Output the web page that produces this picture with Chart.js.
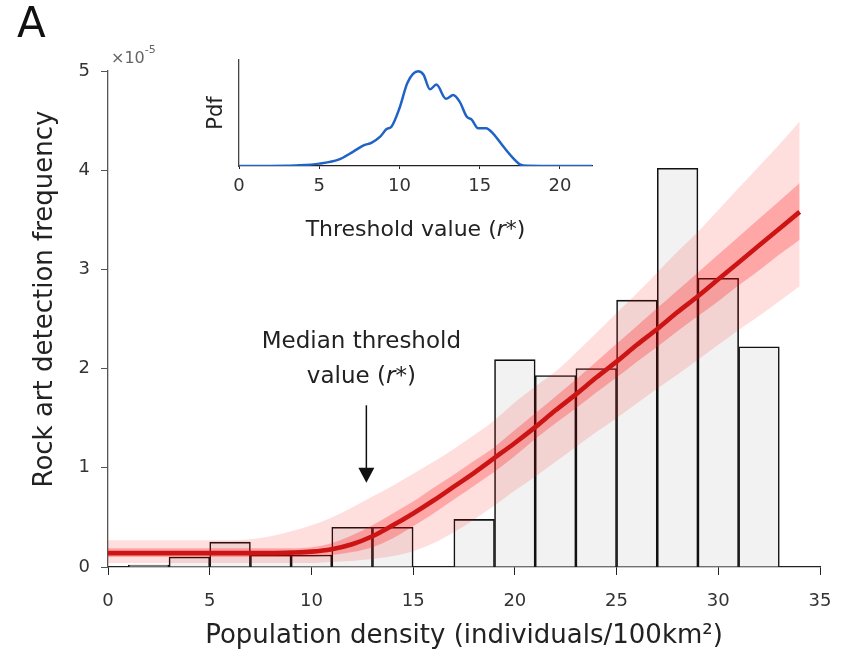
<!DOCTYPE html>
<html>
<head>
<meta charset="utf-8">
<script src="https://cdn.jsdelivr.net/npm/chart.js@4.4.1/dist/chart.umd.min.js"></script>
<style>
  html, body { margin: 0; padding: 0; background: #fff; }
  #wrap { position: relative; width: 843px; height: 656px; }
  #main { position: absolute; left: 0; top: 0; }
  #inset { position: absolute; left: 180px; top: 40px; }
</style>
</head>
<body>
<div id="wrap">
  <canvas id="main" width="843" height="656"></canvas>
  <canvas id="inset" width="440" height="220"></canvas>
</div>
<script>
// histogram of sites (bin centres, width 2)
const binCenters = [2, 4, 6, 8, 10, 12, 14, 16, 18, 20, 22, 24, 26, 28, 30, 32];
const binFreq = [0.02, 0.10, 0.25, 0.12, 0.12, 0.40, 0.40, 0, 0.48, 2.09, 1.93, 2.00, 2.69, 4.02, 2.91, 2.22];

// threshold model fit
const densityX = [0, 1, 2, 3, 4, 5, 6, 7, 8, 9, 10, 11, 12, 13, 14, 15, 16, 17, 18, 19, 20, 21, 22, 23, 24, 25, 26, 27, 28, 29, 30, 31, 32, 33, 34];
const fitMean = [0.14, 0.14, 0.14, 0.14, 0.14, 0.14, 0.14, 0.14, 0.14, 0.145, 0.155, 0.18, 0.23, 0.31, 0.42, 0.54, 0.67, 0.81, 0.95, 1.10, 1.25, 1.41, 1.58, 1.74, 1.91, 2.07, 2.24, 2.40, 2.57, 2.73, 2.90, 3.07, 3.24, 3.41, 3.58];
const innerLo = [0.10, 0.10, 0.10, 0.10, 0.10, 0.10, 0.10, 0.10, 0.10, 0.10, 0.10, 0.12, 0.15, 0.20, 0.29, 0.41, 0.54, 0.68, 0.82, 0.96, 1.12, 1.29, 1.45, 1.60, 1.76, 1.91, 2.07, 2.22, 2.38, 2.53, 2.68, 2.84, 2.99, 3.15, 3.30];
const innerHi = [0.19, 0.19, 0.19, 0.19, 0.19, 0.19, 0.19, 0.19, 0.19, 0.19, 0.20, 0.24, 0.32, 0.42, 0.54, 0.66, 0.80, 0.93, 1.07, 1.21, 1.38, 1.55, 1.72, 1.89, 2.07, 2.25, 2.43, 2.61, 2.79, 2.97, 3.15, 3.33, 3.51, 3.69, 3.87];
const outerLo = [0.04, 0.04, 0.04, 0.04, 0.04, 0.04, 0.04, 0.04, 0.04, 0.04, 0.04, 0.05, 0.06, 0.08, 0.11, 0.16, 0.24, 0.35, 0.48, 0.62, 0.77, 0.91, 1.06, 1.21, 1.36, 1.50, 1.65, 1.80, 1.94, 2.09, 2.24, 2.39, 2.53, 2.68, 2.83];
const outerHi = [0.27, 0.27, 0.27, 0.27, 0.27, 0.27, 0.27, 0.28, 0.31, 0.36, 0.42, 0.50, 0.60, 0.71, 0.82, 0.94, 1.06, 1.19, 1.33, 1.48, 1.66, 1.82, 1.97, 2.16, 2.36, 2.56, 2.76, 2.97, 3.18, 3.38, 3.60, 3.82, 4.04, 4.26, 4.49];

// median threshold arrow (x) and its vertical extent (y units)
const medianR = 12.7;
const arrowFrom = 1.63;
const arrowTo = 0.85;

// inset: pdf of threshold value
const pdfX = [0, 2, 3, 3.8, 5.0, 6.2, 7.1, 7.8, 8.25, 8.8, 9.2, 9.5, 10.0, 10.5, 11.16, 11.5, 11.9, 12.3, 12.9, 13.35, 13.75, 14.2, 14.5, 14.9, 15.4, 15.85, 16.5, 17.1, 17.5, 18.0, 20, 22];
const pdfY = [0, 0.001, 0.003, 0.007, 0.025, 0.067, 0.15, 0.22, 0.245, 0.31, 0.39, 0.415, 0.61, 0.88, 1.0, 0.965, 0.81, 0.86, 0.71, 0.75, 0.68, 0.52, 0.49, 0.40, 0.40, 0.34, 0.20, 0.08, 0.018, 0.002, 0, 0];

const FONT = "'DejaVu Sans', 'Liberation Sans', sans-serif";
Chart.defaults.font.family = FONT;
Chart.defaults.color = '#333';

const pts = (xs, ys) => xs.map((x, i) => ({ x: x, y: ys[i] }));

function drawRich(ctx, parts, cx, cy) {
    let total = 0;
    parts.forEach(p => { ctx.font = p.font; p.w = ctx.measureText(p.text).width; total += p.w; });
    let px = cx - total / 2;
    ctx.textBaseline = 'middle';
    ctx.textAlign = 'left';
    parts.forEach(p => { ctx.font = p.font; ctx.fillText(p.text, px, cy); px += p.w; });
}

const annotate = {
    id: 'annotate',
    afterDraw(chart) {
        const { ctx, chartArea } = chart;
        const xs = chart.scales.x, ys = chart.scales.y;
        ctx.save();
        // panel letter
        ctx.fillStyle = '#111';
        ctx.textBaseline = 'alphabetic';
        ctx.font = `42px ${FONT}`;
        ctx.fillText('A', 17, 37);
        // exponent marker
        ctx.fillStyle = '#666';
        ctx.font = `16px ${FONT}`;
        ctx.fillText('×10', chartArea.left + 3, chartArea.top - 8);
        const w = ctx.measureText('×10').width;
        ctx.font = `11px ${FONT}`;
        ctx.fillText('-5', chartArea.left + 3 + w, chartArea.top - 18);
        // y axis title
        ctx.save();
        ctx.fillStyle = '#222';
        ctx.translate(45, (chartArea.top + chartArea.bottom) / 2 - 20);
        ctx.rotate(-Math.PI / 2);
        drawRich(ctx, [{ text: 'Rock art detection frequency', font: `26px ${FONT}` }], 0, 0);
        ctx.restore();
        // arrow
        const ax = xs.getPixelForValue(medianR);
        const y0 = ys.getPixelForValue(arrowFrom), y1 = ys.getPixelForValue(arrowTo);
        ctx.strokeStyle = '#111';
        ctx.fillStyle = '#111';
        ctx.lineWidth = 1.5;
        ctx.beginPath(); ctx.moveTo(ax, y0); ctx.lineTo(ax, y1 - 12); ctx.stroke();
        ctx.beginPath(); ctx.moveTo(ax - 8, y1 - 15); ctx.lineTo(ax + 8, y1 - 15); ctx.lineTo(ax, y1); ctx.closePath(); ctx.fill();
        // label
        ctx.fillStyle = '#222';
        const n = `23px ${FONT}`, it = `italic 23px ${FONT}`;
        drawRich(ctx, [{ text: 'Median threshold', font: n }], ax - 5, y0 - 63);
        drawRich(ctx, [{ text: 'value (', font: n }, { text: 'r*', font: it }, { text: ')', font: n }], ax - 5, y0 - 28);
        ctx.restore();
    }
};

new Chart(document.getElementById('main'), {
    type: 'bar',
    data: {
        datasets: [
            { type: 'line', data: pts(densityX, fitMean), borderColor: 'rgb(204,20,20)', borderWidth: 4.6, pointRadius: 0, cubicInterpolationMode: 'monotone', fill: false, order: 0 },
            { type: 'line', data: pts(densityX, innerLo), borderWidth: 0, pointRadius: 0, cubicInterpolationMode: 'monotone', fill: false, order: 1 },
            { type: 'line', data: pts(densityX, innerHi), borderWidth: 0, pointRadius: 0, cubicInterpolationMode: 'monotone', fill: '-1', backgroundColor: 'rgba(255,0,0,0.25)', order: 1 },
            { type: 'line', data: pts(densityX, outerLo), borderWidth: 0, pointRadius: 0, cubicInterpolationMode: 'monotone', fill: false, order: 2 },
            { type: 'line', data: pts(densityX, outerHi), borderWidth: 0, pointRadius: 0, cubicInterpolationMode: 'monotone', fill: '-1', backgroundColor: 'rgba(255,0,0,0.13)', order: 2 },
            { type: 'bar', data: pts(binCenters, binFreq), backgroundColor: '#f2f2f2', borderColor: '#111', borderWidth: 1.6, barPercentage: 1, categoryPercentage: 1, order: 5 }
        ]
    },
    options: {
        responsive: false,
        animation: false,
        layout: { padding: { left: 0, top: 71, right: 23, bottom: 0 } },
        plugins: { legend: { display: false }, tooltip: { enabled: false } },
        scales: {
            x: {
                type: 'linear', min: 0, max: 35, offset: false,
                ticks: { stepSize: 5, font: { size: 18 }, color: '#333', padding: 16, maxRotation: 0 },
                grid: { drawOnChartArea: false, tickLength: 8, color: '#222', offset: false },
                border: { color: '#222', width: 1.3 },
                title: { display: true, text: 'Population density (individuals/100km²)', font: { size: 26 }, color: '#222', padding: { top: 0, bottom: 4 } },
                afterFit: s => { s.height = 89; s.paddingLeft = 0; s.paddingRight = 0; }
            },
            y: {
                min: 0, max: 5,
                ticks: { stepSize: 1, font: { size: 18 }, color: '#333', padding: 11 },
                grid: { drawOnChartArea: false, tickLength: 7, color: '#555' },
                border: { color: '#555', width: 1.3 },
                afterFit: s => { s.width = 108; }
            }
        }
    },
    plugins: [annotate]
});

const insetTitle = {
    id: 'insetTitle',
    afterDraw(chart) {
        const { ctx, chartArea } = chart;
        ctx.save();
        ctx.fillStyle = '#222';
        const n = `22px ${FONT}`, it = `italic 22px ${FONT}`;
        drawRich(ctx, [{ text: 'Threshold value (', font: n }, { text: 'r*', font: it }, { text: ')', font: n }], (chartArea.left + chartArea.right) / 2, chartArea.bottom + 64);
        ctx.restore();
    }
};

new Chart(document.getElementById('inset'), {
    type: 'line',
    data: {
        datasets: [{ data: pts(pdfX, pdfY), borderColor: '#1f63c6', borderWidth: 2.5, pointRadius: 0, cubicInterpolationMode: 'monotone', fill: false }]
    },
    options: {
        responsive: false,
        animation: false,
        layout: { padding: { left: 0, top: 20, right: 28, bottom: 0 } },
        plugins: { legend: { display: false }, tooltip: { enabled: false } },
        scales: {
            x: {
                type: 'linear', min: 0, max: 22,
                afterBuildTicks: s => { s.ticks = s.ticks.filter(t => t.value % 5 === 0); },
                ticks: { stepSize: 5, font: { size: 18 }, color: '#333', padding: 7, maxRotation: 0 },
                grid: { drawOnChartArea: false, tickLength: 3, color: '#222' },
                border: { color: '#222', width: 1.3 },
                afterFit: s => { s.height = 94; s.paddingLeft = 0; s.paddingRight = 0; }
            },
            y: {
                min: 0, max: 1.12,
                ticks: { display: false },
                grid: { display: false },
                border: { color: '#444', width: 1.3 },
                title: { display: true, text: 'Pdf', font: { size: 21 }, color: '#222', padding: { top: 24 } },
                afterFit: s => { s.width = 59; }
            }
        }
    },
    plugins: [insetTitle]
});
</script>
</body>
</html>
